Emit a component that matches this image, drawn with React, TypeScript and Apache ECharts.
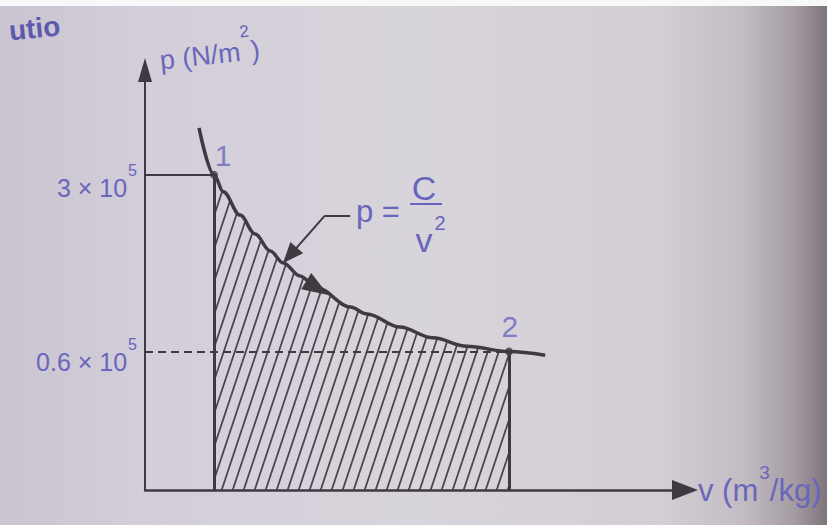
import { useEffect, useRef } from "react";
import * as echarts from "echarts";

// Expansion curve: specific volume (m³/kg) and pressure (N/m²)
const specificVolume = [0.1, 0.128, 0.145, 0.176, 0.204, 0.232, 0.256, 0.287, 0.319, 0.38, 0.411, 0.472, 0.533, 0.596, 0.674, 0.741];
const pressure = [460000, 300000, 257000, 208000, 175000, 150000, 134500, 119500, 107000, 90000, 84500, 75000, 68000, 63000, 60000, 58000];

// End states of the process
const stateNames = ["1", "2"];
const stateVolume = [0.128, 0.674];
const statePressure = [300000, 60000];
const stateMantissa = ["3 × 10", "0.6 × 10"];
const stateExponent = ["5", "5"];

// Axis extents
const volumeRange = [0, 1];
const pressureRange = [17000, 780000];

// Annotation "p = C/v²": leader line in data coordinates
const leaderStart = [0.38, 207000];
const leaderElbow = [0.333, 207000];
const leaderTargetIndex = 6;
const directionArrowIndex = 8;

const INK = "#3f3a41";
const BLUE = "#6966bc";
const FONT = "'Liberation Sans', Arial, Helvetica, sans-serif";

// Rich-text styles for a base text followed by a raised exponent
function superscriptRich(F: number, f: number, gap: number) {
  return {
    m: { fontSize: F, lineHeight: F, verticalAlign: "bottom", color: BLUE, fontFamily: FONT },
    s: {
      fontSize: f,
      lineHeight: f,
      verticalAlign: "bottom",
      color: BLUE,
      fontFamily: FONT,
      padding: [0, 0, Math.round(0.87 * F + gap - 0.15 * f), 1],
    },
  };
}

// Diagonal hatching tile used to fill the work area
function hatchPattern() {
  const w = 11;
  const h = 33;
  const c = document.createElement("canvas");
  c.width = w;
  c.height = h;
  const ctx = c.getContext("2d")!;
  ctx.strokeStyle = "#4a454d";
  ctx.lineWidth = 1.8;
  for (const dx of [-w, 0, w]) {
    ctx.beginPath();
    ctx.moveTo(dx, h);
    ctx.lineTo(dx + w, 0);
    ctx.stroke();
  }
  return { image: c, repeat: "repeat", imageWidth: w, imageHeight: h };
}

export default function App() {
  const ref = useRef<HTMLDivElement>(null);

  useEffect(() => {
    if (!ref.current) return;
    const chart = echarts.init(ref.current, null, { renderer: "svg" });

    const curveData = specificVolume.map((v, i) => [v, pressure[i]]);
    const areaData = curveData.filter(([v]) => v >= stateVolume[0] && v <= stateVolume[1]);
    const pointData = stateVolume.map((v, i) => [v, statePressure[i]]);

    const stateLineLabel = (i: number, padTop: number) => ({
      show: true,
      position: "start",
      distance: 8,
      padding: [padTop, 0, 0, 0],
      formatter: `{m|${stateMantissa[i]}}{s|${stateExponent[i]}}`,
      rich: superscriptRich(25, 16, 3),
    });

    const option: any = {
      animation: false,
      backgroundColor: {
        type: "linear",
        x: 0,
        y: 0,
        x2: 1,
        y2: 0,
        colorStops: [
          { offset: 0, color: "#cbc4d1" },
          { offset: 0.18, color: "#d3ced9" },
          { offset: 0.5, color: "#d8d4db" },
          { offset: 0.8, color: "#d3ced4" },
          { offset: 0.9, color: "#c3bcc3" },
          { offset: 0.96, color: "#a49ba3" },
          { offset: 1, color: "#7e747c" },
        ],
      },
      grid: { left: 145, right: 142, top: 70, bottom: 35, containLabel: false, outerBoundsMode: "none" },
      xAxis: {
        type: "value",
        min: volumeRange[0],
        max: volumeRange[1],
        name: "{m|v (m}{s|3}{m|/kg)}",
        nameLocation: "end",
        nameGap: 13,
        nameTextStyle: {
          align: "left",
          verticalAlign: "middle",
          rich: superscriptRich(31, 19, 0),
        },
        axisLine: {
          show: true,
          onZero: false,
          symbol: ["none", "triangle"],
          symbolSize: [20, 26],
          lineStyle: { color: INK, width: 2.5 },
        },
        axisTick: { show: false },
        axisLabel: { show: false },
        splitLine: { show: false },
      },
      yAxis: {
        type: "log",
        logBase: 10,
        min: pressureRange[0],
        max: pressureRange[1],
        name: "{m|p (N/m}{s|2}{m|)}",
        nameLocation: "end",
        nameGap: 8,
        nameRotate: 6,
        nameTextStyle: {
          align: "left",
          verticalAlign: "middle",
          padding: [0, 0, 0, 15],
          rich: superscriptRich(27, 17, 4),
        },
        axisLine: {
          show: true,
          onZero: false,
          symbol: ["none", "triangle"],
          symbolSize: [14, 24],
          lineStyle: { color: INK, width: 2 },
        },
        axisTick: { show: false },
        axisLabel: { show: false },
        splitLine: { show: false },
        minorSplitLine: { show: false },
      },
      series: [
        {
          name: "work",
          type: "line",
          data: areaData,
          smooth: 0.35,
          smoothMonotone: "x",
          symbol: "none",
          silent: true,
          z: 1,
          lineStyle: { width: 0, opacity: 0 },
          areaStyle: { color: hatchPattern(), opacity: 1, origin: pressureRange[0] },
          markLine: {
            silent: true,
            symbol: ["none", "none"],
            label: { show: false },
            emphasis: { disabled: true },
            data: [
              [
                {
                  coord: [volumeRange[0], statePressure[0]],
                  lineStyle: { color: INK, width: 2, type: "solid" },
                  label: stateLineLabel(0, 27),
                },
                { coord: pointData[0] },
              ],
              [
                {
                  coord: [volumeRange[0], statePressure[1]],
                  lineStyle: { color: INK, width: 2, type: [8, 5] },
                  label: stateLineLabel(1, 21),
                },
                { coord: pointData[1] },
              ],
              [
                { coord: [stateVolume[0], pressureRange[0]], lineStyle: { color: INK, width: 3, type: "solid" } },
                { coord: pointData[0] },
              ],
              [
                { coord: [stateVolume[1], pressureRange[0]], lineStyle: { color: INK, width: 3, type: "solid" } },
                { coord: pointData[1] },
              ],
            ],
          },
        },
        {
          name: "p = C/v²",
          type: "line",
          data: curveData,
          smooth: 0.35,
          smoothMonotone: "x",
          symbol: "none",
          silent: true,
          z: 3,
          lineStyle: { color: INK, width: 3.5 },
          markLine: {
            silent: true,
            symbol: ["none", "none"],
            label: { show: false },
            emphasis: { disabled: true },
            lineStyle: { color: INK, width: 2, type: "solid" },
            data: [
              [{ coord: leaderStart }, { coord: leaderElbow }],
              [
                { coord: leaderElbow },
                {
                  coord: curveData[leaderTargetIndex],
                  symbol: "triangle",
                  symbolSize: [17, 21],
                  symbolOffset: [0, 10],
                },
              ],
            ],
          },
          markPoint: {
            silent: true,
            label: { show: false },
            data: [
              {
                coord: curveData[directionArrowIndex],
                symbol: "triangle",
                symbolSize: [19, 26],
                symbolRotate: -122,
                itemStyle: { color: INK },
              },
            ],
          },
        },
        {
          name: "states",
          type: "scatter",
          silent: true,
          z: 4,
          symbolSize: 8,
          itemStyle: { color: INK },
          label: {
            show: true,
            position: "top",
            distance: 0,
            formatter: "{b}",
            color: BLUE,
            fontSize: 30,
            fontFamily: FONT,
          },
          data: pointData.map((value, i) => ({
            name: stateNames[i],
            value,
            label: { offset: i === 0 ? [9, 0] : [1, -6] },
          })),
        },
      ],
      graphic: [
        {
          type: "text",
          x: 9,
          y: 31,
          rotation: 0.1,
          z: 1,
          style: {
            text: "utio",
            fill: "#5d5aae",
            font: `bold 28px ${FONT}`,
            verticalAlign: "middle",
            align: "left",
          },
        },
        {
          type: "rect",
          z: 2,
          shape: { x: 0, y: 0, width: 827, height: 6 },
          style: { fill: "#f8f8f9" },
        },
        {
          type: "group",
          z: 5,
          children: [
            {
              type: "text",
              x: 356,
              y: 211,
              style: { text: "p =", fill: BLUE, font: `31px ${FONT}`, align: "left", verticalAlign: "middle" },
            },
            {
              type: "text",
              x: 424,
              y: 188,
              style: { text: "C", fill: BLUE, font: `34px ${FONT}`, align: "center", verticalAlign: "middle" },
            },
            {
              type: "line",
              shape: { x1: 410, y1: 204, x2: 442, y2: 204 },
              style: { stroke: BLUE, lineWidth: 2 },
            },
            {
              type: "text",
              x: 424,
              y: 240,
              style: { text: "v", fill: BLUE, font: `34px ${FONT}`, align: "center", verticalAlign: "middle" },
            },
            {
              type: "text",
              x: 440,
              y: 223,
              style: { text: "2", fill: BLUE, font: `20px ${FONT}`, align: "center", verticalAlign: "middle" },
            },
          ],
        },
      ],
    };

    chart.setOption(option);
    return () => chart.dispose();
  }, []);

  return (
    <div
      ref={ref}
      style={{ position: "absolute", left: 0, top: 0, width: 827, height: 525 }}
    />
  );
}
